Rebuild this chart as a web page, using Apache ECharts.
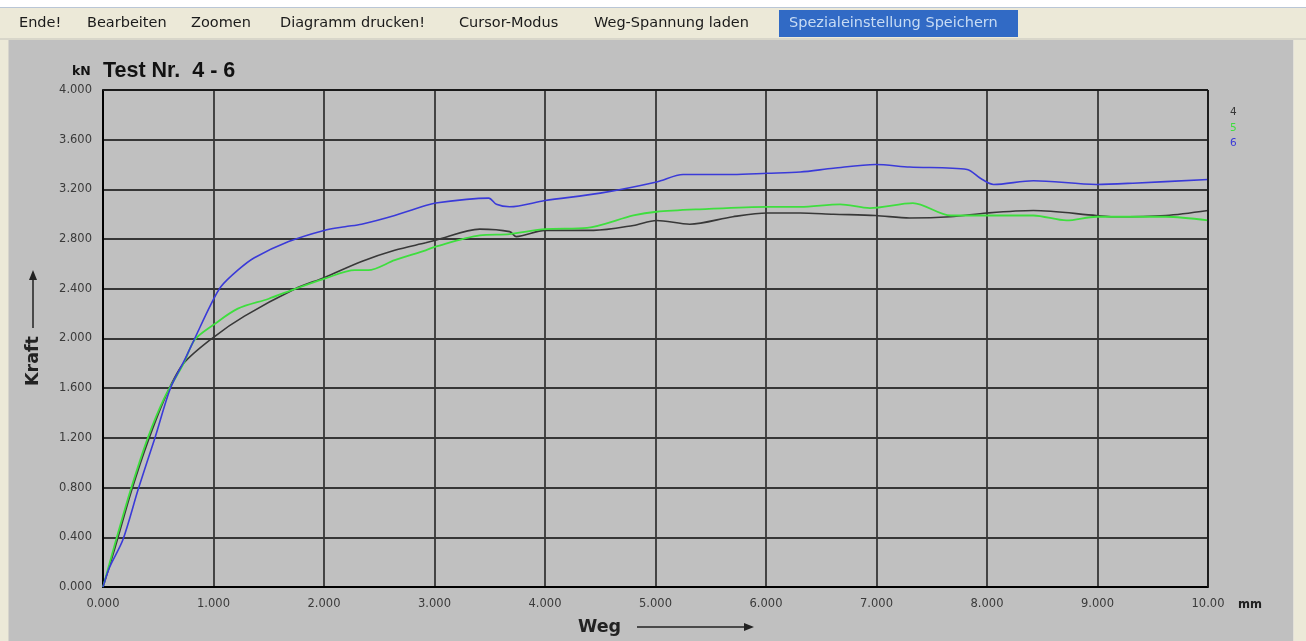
<!DOCTYPE html>
<html>
<head>
<meta charset="utf-8">
<script src="https://cdn.jsdelivr.net/npm/echarts@6/dist/echarts.min.js"></script>
<style>
html,body{margin:0;padding:0;background:#ffffff;}
#chart{width:1306px;height:641px;}
</style>
</head>
<body>
<div id="chart"></div>
<script>
// ---- data (Weg in mm, Kraft in kN) ----
const seriesNames = ['4', '5', '6'];
const xTicks = ['0.000','1.000','2.000','3.000','4.000','5.000','6.000','7.000','8.000','9.000','10.00'];
const yTicks = ['0.000','0.400','0.800','1.200','1.600','2.000','2.400','2.800','3.200','3.600','4.000'];
const menuItems = ['Ende!','Bearbeiten','Zoomen','Diagramm drucken!','Cursor-Modus','Weg-Spannung laden','Spezialeinstellung Speichern'];

const weg4   = [0, 0.11, 0.26, 0.41, 0.58, 0.73, 1.0, 1.28, 1.74, 2.0, 2.34, 2.64, 2.92, 3.01, 3.41, 3.68, 3.74, 4.0, 4.44, 4.80, 5.01, 5.31, 5.70, 6.01, 6.31, 6.61, 6.99, 7.30, 7.67, 8.0, 8.42, 8.99, 9.14, 9.62, 10.0];
const kraft4 = [0, 0.32, 0.78, 1.18, 1.56, 1.80, 2.01, 2.18, 2.40, 2.49, 2.62, 2.71, 2.77, 2.79, 2.88, 2.86, 2.82, 2.87, 2.87, 2.91, 2.95, 2.92, 2.98, 3.01, 3.01, 3.00, 2.99, 2.97, 2.98, 3.01, 3.03, 2.99, 2.98, 2.99, 3.03];

const weg5   = [0, 0.10, 0.25, 0.41, 0.56, 0.73, 0.83, 1.0, 1.22, 1.50, 1.74, 2.0, 2.28, 2.40, 2.64, 2.92, 3.01, 3.41, 3.68, 4.0, 4.38, 4.80, 5.01, 5.40, 6.01, 6.31, 6.67, 6.94, 7.33, 7.67, 8.0, 8.42, 8.72, 8.99, 9.62, 10.0];
const kraft5 = [0, 0.32, 0.78, 1.21, 1.53, 1.80, 1.99, 2.11, 2.24, 2.32, 2.40, 2.48, 2.55, 2.55, 2.63, 2.71, 2.74, 2.83, 2.84, 2.88, 2.89, 2.99, 3.02, 3.04, 3.06, 3.06, 3.08, 3.05, 3.09, 2.99, 2.99, 2.99, 2.95, 2.98, 2.98, 2.95];

const weg6   = [0, 0.06, 0.18, 0.32, 0.47, 0.61, 0.74, 0.83, 0.98, 1.07, 1.22, 1.37, 1.68, 2.0, 2.19, 2.34, 2.64, 2.92, 3.01, 3.29, 3.49, 3.56, 3.68, 4.0, 4.5, 5.01, 5.25, 5.70, 6.01, 6.31, 6.61, 6.99, 7.30, 7.82, 7.94, 8.06, 8.42, 8.99, 9.32, 10.0];
const kraft6 = [0, 0.16, 0.38, 0.79, 1.20, 1.60, 1.83, 2.00, 2.28, 2.42, 2.55, 2.65, 2.78, 2.87, 2.90, 2.92, 2.99, 3.07, 3.09, 3.12, 3.13, 3.08, 3.06, 3.11, 3.17, 3.26, 3.32, 3.32, 3.33, 3.34, 3.37, 3.40, 3.38, 3.36, 3.29, 3.24, 3.27, 3.24, 3.25, 3.28];

const pair = (xs, ys) => xs.map((x, i) => [x, ys[i]]);
const colors = ['#383838', '#3ede3e', '#3a3ad8'];

const chart = echarts.init(document.getElementById('chart'), null, {renderer: 'canvas'});

// menu layout
const menuX = [19, 87, 191, 280, 459, 594, 789];
const menuGraphics = [];
menuGraphics.push({type:'rect', shape:{x:0,y:0,width:1306,height:8}, style:{fill:'#ffffff'}, z:1});
menuGraphics.push({type:'rect', shape:{x:0,y:7,width:1306,height:1}, style:{fill:'#b9c6d6'}, z:1});
menuGraphics.push({type:'rect', shape:{x:0,y:8,width:1306,height:31}, style:{fill:'#ece9d8'}, z:1});
menuGraphics.push({type:'rect', shape:{x:0,y:38,width:1306,height:2}, style:{fill:'#d8d6ca'}, z:1});
menuGraphics.push({type:'rect', shape:{x:0,y:40,width:8,height:601}, style:{fill:'#ece9d8'}, z:1});
menuGraphics.push({type:'rect', shape:{x:8,y:40,width:1,height:601}, style:{fill:'#d6d4cc'}, z:1});
menuGraphics.push({type:'rect', shape:{x:1294,y:40,width:12,height:601}, style:{fill:'#ece9d8'}, z:1});
menuGraphics.push({type:'rect', shape:{x:1293,y:40,width:1,height:601}, style:{fill:'#e2e0d8'}, z:1});
menuGraphics.push({type:'rect', shape:{x:779,y:10,width:239,height:27}, style:{fill:'#316ac5'}, z:2});
menuItems.forEach((t, i) => {
  menuGraphics.push({
    type:'text', x: menuX[i], y: 23, z:3,
    style:{text:t, fontFamily:'DejaVu Sans', fontSize:14.5, fill: i === 6 ? '#c8dcf4' : '#1a1a1a', textVerticalAlign:'middle'}
  });
});

const option = {
  backgroundColor: '#c0c0c0',
  animation: false,
  grid: {left: 103, top: 90, width: 1105, height: 497, show: false},
  xAxis: {
    type: 'value', min: 0, max: 10, interval: 1,
    axisLine: {show: true, onZero: false, lineStyle: {color: '#000', width: 2}},
    axisTick: {show: false},
    splitLine: {show: true, lineStyle: {color: '#363636', width: 1.8}},
    axisLabel: {
      formatter: v => xTicks[Math.round(v)],
      fontFamily: 'DejaVu Sans', fontSize: 11.5, color: '#3a3a3a', margin: 11
    }
  },
  yAxis: {
    type: 'value', min: 0, max: 4, interval: 0.4,
    axisLine: {show: true, onZero: false, lineStyle: {color: '#000', width: 2}},
    axisTick: {show: false},
    splitLine: {show: true, lineStyle: {color: '#363636', width: 1.8}},
    axisLabel: {
      formatter: v => yTicks[Math.round(v / 0.4)],
      fontFamily: 'DejaVu Sans', fontSize: 11.5, color: '#3a3a3a', margin: 11
    }
  },
  series: [
    {name: seriesNames[0], type: 'line', data: pair(weg4, kraft4), showSymbol: false, smooth: 0.3, lineStyle: {color: colors[0], width: 1.6}, z: 3},
    {name: seriesNames[1], type: 'line', data: pair(weg5, kraft5), showSymbol: false, smooth: 0.3, lineStyle: {color: colors[1], width: 1.8}, z: 4},
    {name: seriesNames[2], type: 'line', data: pair(weg6, kraft6), showSymbol: false, smooth: 0.3, lineStyle: {color: colors[2], width: 1.6}, z: 5}
  ],
  graphic: menuGraphics.concat([
    // right & top plot borders
    {type:'line', shape:{x1:1208,y1:90,x2:1208,y2:587}, style:{stroke:'#1a1a1a', lineWidth:1.8}, z:10},
    {type:'line', shape:{x1:103,y1:90,x2:1208,y2:90}, style:{stroke:'#1a1a1a', lineWidth:1.8}, z:10},
    // title
    {type:'text', x:72, y:72, style:{text:'kN', fontFamily:'DejaVu Sans', fontWeight:'bold', fontSize:12.5, fill:'#111', textVerticalAlign:'middle'}},
    {type:'text', x:103, y:71, style:{text:'Test Nr.  4 - 6', fontFamily:'Liberation Sans', fontWeight:'bold', fontSize:21.5, fill:'#111', textVerticalAlign:'middle'}},
    // legend
    {type:'text', x:1230, y:112, style:{text:seriesNames[0], fontFamily:'DejaVu Sans', fontSize:10.5, fill:colors[0], textVerticalAlign:'middle'}},
    {type:'text', x:1230, y:128, style:{text:seriesNames[1], fontFamily:'DejaVu Sans', fontSize:10.5, fill:colors[1], textVerticalAlign:'middle'}},
    {type:'text', x:1230, y:143, style:{text:seriesNames[2], fontFamily:'DejaVu Sans', fontSize:10.5, fill:colors[2], textVerticalAlign:'middle'}},
    // x unit
    {type:'text', x:1238, y:605, style:{text:'mm', fontFamily:'DejaVu Sans', fontWeight:'bold', fontSize:11.5, fill:'#222', textVerticalAlign:'middle'}},
    // x axis name + arrow
    {type:'text', x:578, y:627, style:{text:'Weg', fontFamily:'DejaVu Sans', fontWeight:'bold', fontSize:17.5, fill:'#222', textVerticalAlign:'middle'}},
    {type:'line', shape:{x1:637,y1:627,x2:746,y2:627}, style:{stroke:'#222', lineWidth:1.5}},
    {type:'polygon', shape:{points:[[754,627],[744,623],[744,631]]}, style:{fill:'#222'}},
    // y axis name + arrow
    {type:'text', x:33, y:361, rotation:Math.PI/2, style:{text:'Kraft', fontFamily:'DejaVu Sans', fontWeight:'bold', fontSize:17.5, fill:'#222', textAlign:'center', textVerticalAlign:'middle'}},
    {type:'line', shape:{x1:33,y1:328,x2:33,y2:278}, style:{stroke:'#222', lineWidth:1.5}},
    {type:'polygon', shape:{points:[[33,270],[29,280],[37,280]]}, style:{fill:'#222'}}
  ])
};
chart.setOption(option);
</script>
</body>
</html>
